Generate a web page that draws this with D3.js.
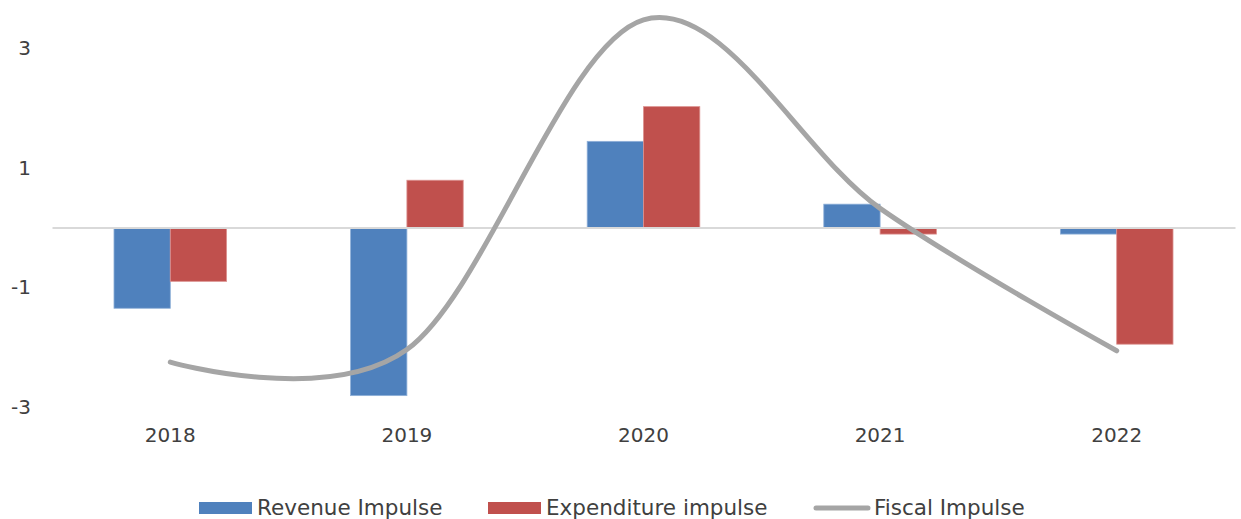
<!DOCTYPE html>
<html>
<head>
<meta charset="utf-8">
<script src="https://cdn.jsdelivr.net/npm/d3@7/dist/d3.min.js"></script>
<style>
  html, body { margin: 0; padding: 0; background: #fff; }
  svg { display: block; }
  text { font-family: "DejaVu Sans", Verdana, sans-serif; fill: #404040; }
</style>
</head>
<body>
<svg id="chart" width="1241" height="519"></svg>
<script>
// Fiscal impulse components by year
const years = ["2018", "2019", "2020", "2021", "2022"];
const revenueImpulse = [-1.35, -2.81, 1.44, 0.39, -0.11];
const expenditureImpulse = [-0.9, 0.79, 2.02, -0.11, -1.95];
const fiscalImpulse = [-2.25, -2.04, 3.47, 0.32, -2.06];
const yTicks = [-3, -1, 1, 3];

const seriesNames = ["Revenue Impulse", "Expenditure impulse", "Fiscal Impulse"];
const colors = { revenue: "#4f81bd", expenditure: "#c0504d", fiscal: "#a5a5a5" };

const svg = d3.select("#chart");

const x = d3.scaleBand().domain(years).range([52, 1235]).padding(0);
const y = d3.scaleLinear().domain([-3, 3]).range([407, 48]);

const groupWidth = x.bandwidth() * 0.476;
const barWidth = groupWidth / 2;

// Y axis labels (no axis line, no gridlines); plain hyphen for negatives
const yAxis = d3.axisLeft(y).tickValues(yTicks).tickFormat(d => String(d)).tickSize(0).tickPadding(0);
const gy = svg.append("g").attr("transform", "translate(31,0)").call(yAxis);
gy.select(".domain").remove();
gy.selectAll("text")
  .style("font-family", "'DejaVu Sans', Verdana, sans-serif")
  .attr("font-size", 20)
  .attr("fill", "#404040");

// Bars
const barData = years.map((yr, i) => ({ yr, rev: revenueImpulse[i], exp: expenditureImpulse[i] }));
const bars = svg.append("g");
bars.selectAll("rect.rev").data(barData).join("rect")
  .attr("class", "rev")
  .attr("x", d => x(d.yr) + x.bandwidth() / 2 - groupWidth / 2)
  .attr("width", barWidth)
  .attr("y", d => y(Math.max(0, d.rev)))
  .attr("height", d => Math.abs(y(d.rev) - y(0)))
  .attr("fill", colors.revenue)
  .attr("stroke", "#8fb0d8").attr("stroke-width", 0.8);
bars.selectAll("rect.exp").data(barData).join("rect")
  .attr("class", "exp")
  .attr("x", d => x(d.yr) + x.bandwidth() / 2)
  .attr("width", barWidth)
  .attr("y", d => y(Math.max(0, d.exp)))
  .attr("height", d => Math.abs(y(d.exp) - y(0)))
  .attr("fill", colors.expenditure)
  .attr("stroke", "#dc9290").attr("stroke-width", 0.8);

// Zero baseline with category labels underneath
const xAxis = d3.axisBottom(x).tickSize(0).tickPadding(0);
const gx = svg.append("g").attr("transform", `translate(0,${y(0)})`).call(xAxis);
gx.select(".domain").attr("stroke", "#d9d9d9").attr("stroke-width", 2);
gx.selectAll("text")
  .style("font-family", "'DejaVu Sans', Verdana, sans-serif")
  .attr("font-size", 20)
  .attr("fill", "#404040")
  .attr("dy", null)
  .attr("y", 442 - y(0));

// Smoothed fiscal impulse line
const line = d3.line()
  .x((d, i) => x(years[i]) + x.bandwidth() / 2)
  .y(d => y(d))
  .curve(d3.curveCardinal.tension(0));
svg.append("path")
  .datum(fiscalImpulse)
  .attr("d", line)
  .attr("fill", "none")
  .attr("stroke", colors.fiscal)
  .attr("stroke-width", 5)
  .attr("stroke-linecap", "round");

// Legend
const legend = svg.append("g").attr("font-size", 21.5);
const legendItems = [
  { name: seriesNames[0], color: colors.revenue, type: "rect", x: 199 },
  { name: seriesNames[1], color: colors.expenditure, type: "rect", x: 488 },
  { name: seriesNames[2], color: colors.fiscal, type: "line", x: 816 }
];
legendItems.forEach(it => {
  if (it.type === "rect") {
    legend.append("rect").attr("x", it.x).attr("y", 502).attr("width", 53).attr("height", 12).attr("fill", it.color);
  } else {
    legend.append("line").attr("x1", it.x).attr("x2", it.x + 52).attr("y1", 508).attr("y2", 508)
      .attr("stroke", it.color).attr("stroke-width", 5).attr("stroke-linecap", "round");
  }
  legend.append("text").attr("x", it.x + 58).attr("y", 515).text(it.name);
});
</script>
</body>
</html>
